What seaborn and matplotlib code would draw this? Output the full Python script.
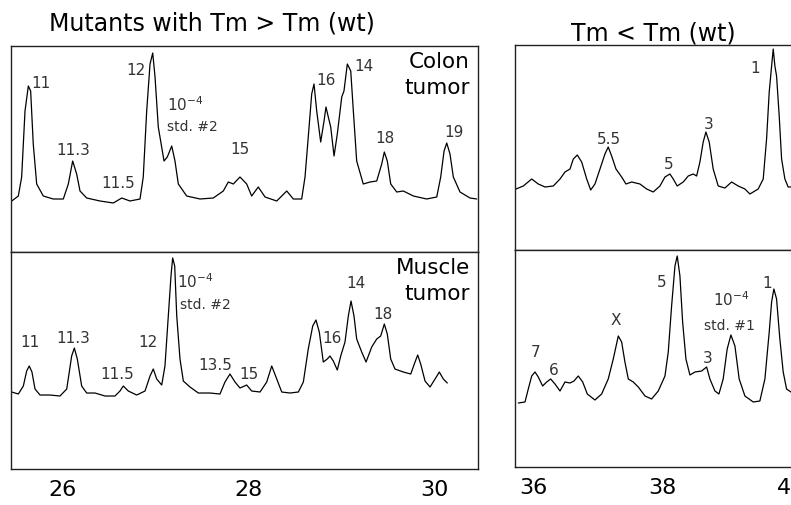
import numpy as np
import pandas as pd
import matplotlib
matplotlib.use("Agg")
import matplotlib.pyplot as plt
import seaborn as sns

# --- traces (x = temperature axis, y = signal, arbitrary units) ---
# Tm > Tm(wt), colon tumor
colon_hi_x = [25.448, 25.519, 25.555, 25.591, 25.627, 25.652, 25.680, 25.717, 25.788, 25.896,
              26.004, 26.058, 26.105, 26.148, 26.184, 26.256, 26.400, 26.543, 26.634, 26.723,
              26.831, 26.866, 26.903, 26.939, 26.968, 26.993, 27.028, 27.090, 27.125, 27.173,
              27.208, 27.244, 27.334, 27.478, 27.621, 27.729, 27.783, 27.837, 27.909, 27.981,
              28.035, 28.106, 28.179, 28.305, 28.413, 28.484, 28.574, 28.610, 28.645, 28.682,
              28.707, 28.736, 28.779, 28.815, 28.836, 28.861, 28.887, 28.923, 28.958, 29.006,
              29.030, 29.066, 29.103, 29.131, 29.167, 29.238, 29.311, 29.383, 29.437, 29.465,
              29.497, 29.534, 29.599, 29.670, 29.778, 29.922, 30.030, 30.073, 30.109, 30.138,
              30.173, 30.209, 30.281, 30.389, 30.461]
colon_hi_y = [51, 56, 75, 141, 166, 161, 108, 68, 56, 53,
              53, 68, 91, 78, 61, 54, 51, 49, 54, 51,
              53, 75, 141, 188, 199, 175, 125, 91, 95, 106,
              91, 68, 56, 53, 54, 61, 70, 68, 75, 68,
              56, 65, 55, 51, 61, 53, 53, 75, 115, 158,
              168, 141, 110, 131, 145, 135, 125, 96, 118, 155,
              161, 188, 181, 141, 91, 68, 70, 71, 88, 100,
              91, 68, 60, 61, 56, 53, 55, 75, 101, 109,
              98, 75, 60, 54, 53]

# Tm > Tm(wt), muscle tumor
muscle_hi_x = [25.448, 25.519, 25.573, 25.609, 25.637, 25.666, 25.699, 25.753, 25.861, 25.968,
               26.041, 26.094, 26.123, 26.155, 26.202, 26.256, 26.346, 26.454, 26.561, 26.615,
               26.651, 26.705, 26.795, 26.885, 26.939, 26.974, 27.011, 27.065, 27.100, 27.136,
               27.165, 27.183, 27.205, 27.227, 27.262, 27.298, 27.370, 27.460, 27.586, 27.693,
               27.747, 27.801, 27.855, 27.909, 27.981, 28.035, 28.125, 28.197, 28.251, 28.297,
               28.359, 28.448, 28.538, 28.592, 28.645, 28.693, 28.728, 28.764, 28.807, 28.850,
               28.879, 28.915, 28.958, 28.995, 29.041, 29.077, 29.106, 29.138, 29.167, 29.221,
               29.268, 29.329, 29.383, 29.426, 29.465, 29.497, 29.534, 29.580, 29.670, 29.750,
               29.796, 29.825, 29.857, 29.904, 29.958, 30.012, 30.058, 30.101, 30.144]
muscle_hi_y = [77, 75, 83, 98, 103, 97, 80, 74, 74, 73,
               80, 113, 121, 110, 83, 76, 76, 73, 73, 78,
               83, 78, 74, 78, 93, 100, 90, 84, 103, 153,
               193, 211, 203, 153, 110, 88, 82, 76, 76, 75,
               87, 95, 87, 81, 84, 78, 77, 87, 103, 92,
               77, 76, 77, 87, 120, 143, 149, 137, 107, 110,
               113, 108, 99, 113, 127, 153, 168, 153, 130, 117,
               107, 122, 130, 133, 145, 135, 110, 100, 97, 95,
               107, 114, 105, 88, 82, 90, 97, 90, 86]

# Tm < Tm(wt), colon tumor
colon_lo_x = [35.736, 35.850, 35.980, 36.082, 36.186, 36.315, 36.419, 36.496, 36.574, 36.625,
              36.687, 36.755, 36.833, 36.895, 36.961, 37.039, 37.116, 37.167, 37.220, 37.287,
              37.375, 37.442, 37.530, 37.659, 37.763, 37.865, 37.969, 38.047, 38.124, 38.175,
              38.237, 38.330, 38.408, 38.485, 38.538, 38.589, 38.640, 38.682, 38.733, 38.795,
              38.873, 38.977, 39.081, 39.183, 39.287, 39.364, 39.493, 39.571, 39.623, 39.664,
              39.701, 39.726, 39.752, 39.778, 39.819, 39.856, 39.907, 39.958, 40.000]
colon_lo_y = [61, 64, 71, 66, 63, 64, 71, 78, 81, 91,
              95, 88, 71, 60, 66, 81, 96, 103, 94, 81,
              73, 66, 68, 66, 61, 58, 64, 73, 76, 71,
              64, 68, 74, 76, 74, 88, 108, 118, 108, 81,
              64, 62, 68, 64, 61, 56, 61, 71, 111, 158,
              184, 201, 184, 174, 134, 91, 71, 63, 63]

# Tm < Tm(wt), muscle tumor
muscle_lo_x = [35.772, 35.876, 35.927, 35.980, 36.031, 36.082, 36.150, 36.212, 36.274, 36.341,
               36.419, 36.496, 36.574, 36.636, 36.702, 36.771, 36.842, 36.961, 37.065, 37.167,
               37.245, 37.323, 37.375, 37.426, 37.478, 37.555, 37.633, 37.737, 37.840, 37.943,
               38.047, 38.098, 38.150, 38.202, 38.237, 38.279, 38.321, 38.372, 38.434, 38.512,
               38.616, 38.693, 38.744, 38.822, 38.884, 38.950, 39.012, 39.070, 39.132, 39.198,
               39.287, 39.416, 39.519, 39.597, 39.664, 39.701, 39.736, 39.778, 39.829, 39.881,
               39.933, 40.000]
muscle_lo_y = [64, 65, 78, 91, 95, 90, 81, 85, 88, 83,
               76, 85, 84, 86, 91, 85, 73, 67, 73, 88,
               108, 131, 125, 105, 88, 85, 80, 71, 68, 76,
               91, 115, 161, 201, 211, 191, 145, 108, 92, 95,
               96, 100, 88, 76, 73, 88, 118, 132, 121, 88,
               71, 65, 66, 88, 135, 165, 178, 168, 128, 95,
               78, 75]

# peak labels (text, x, y)
colon_hi_labels = [("11", 25.758, 170), ("11.3", 26.11, 103), ("11.5", 26.597, 70),
                   ("12", 26.786, 183), ("10$^{-4}$", 27.316, 148), ("std. #2", 27.40, 126),
                   ("15", 27.909, 104), ("16", 28.834, 173), ("14", 29.246, 187),
                   ("18", 29.476, 115), ("19", 30.216, 121)]
muscle_hi_labels = [("11", 25.645, 128), ("11.3", 26.11, 132), ("11.5", 26.58, 96),
                    ("12", 26.92, 128), ("10$^{-4}$", 27.424, 188), ("std. #2", 27.54, 165),
                    ("13.5", 27.64, 105), ("15", 28.006, 96), ("16", 28.898, 132),
                    ("14", 29.157, 187), ("18", 29.454, 156)]
colon_lo_labels = [("5.5", 37.18, 112), ("5", 38.098, 87), ("3", 38.718, 127), ("1", 39.45, 183)]
muscle_lo_labels = [("7", 36.043, 115), ("6", 36.321, 97), ("X", 37.29, 147), ("5", 38.0, 185),
                    ("3", 38.713, 109), ("10$^{-4}$", 39.081, 168), ("std. #1", 39.047, 142),
                    ("1", 39.636, 184)]

sns.set_theme(style="white")
plt.rcParams["font.family"] = ["DejaVu Sans"]

fig = plt.figure(figsize=(7.91, 5.06), dpi=100)
ax_lt = fig.add_axes([0.0139, 0.5, 0.5904, 0.4071])
ax_lb = fig.add_axes([0.0139, 0.0711, 0.5904, 0.4289])
ax_rt = fig.add_axes([0.651, 0.504, 0.357, 0.405])
ax_rb = fig.add_axes([0.651, 0.0751, 0.357, 0.4289])

panels = [
    (ax_lt, colon_hi_x, colon_hi_y, colon_hi_labels, (25.44, 30.475), 206, None),
    (ax_lb, muscle_hi_x, muscle_hi_y, muscle_hi_labels, (25.44, 30.475), 217, [26, 28, 30]),
    (ax_rt, colon_lo_x, colon_lo_y, colon_lo_labels, (35.72, 40.1), 205, None),
    (ax_rb, muscle_lo_x, muscle_lo_y, muscle_lo_labels, (35.72, 40.1), 217, [36, 38, 40]),
]

for ax, xs, ys, labels, xlim, ytop, ticks in panels:
    sns.lineplot(x=xs, y=ys, ax=ax, color="black", linewidth=0.9, estimator=None, sort=False)
    for txt, lx, ly in labels:
        size = 10 if txt.startswith("std") else 11
        ax.text(lx, ly, txt, ha="center", va="center", fontsize=size, color="#333333")
    ax.set_xlim(*xlim)
    ax.set_ylim(0, ytop)
    ax.set_yticks([])
    if ticks is None:
        ax.set_xticks([])
    else:
        ax.set_xticks(ticks)
        ax.set_xticklabels([str(t) for t in ticks])
        ax.tick_params(axis="x", length=0, pad=7, labelsize=16, labelcolor="black")
    for s in ax.spines.values():
        s.set_color("#222222")
        s.set_linewidth(1.0)

ax_lt.text(30.39, 201, "Colon\ntumor", ha="right", va="top", fontsize=15.5,
           color="black", linespacing=1.35)
ax_lb.text(30.39, 212, "Muscle\ntumor", ha="right", va="top", fontsize=15.5,
           color="black", linespacing=1.35)

fig.text(212 / 791, 1 - 24 / 506, "Mutants with Tm > Tm (wt)", ha="center", va="center",
         fontsize=17, color="black")
fig.text(653 / 791, 1 - 34 / 506, "Tm < Tm (wt)", ha="center", va="center",
         fontsize=17, color="black")

fig.savefig("out.png", dpi=100)
